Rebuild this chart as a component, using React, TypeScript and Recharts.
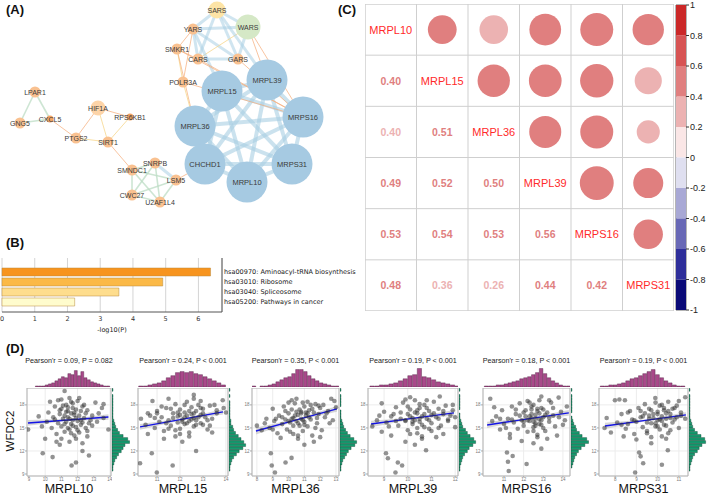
import React from 'react'
import {
  Area, Bar, BarChart, CartesianGrid, Cell, ComposedChart, Line,
  ReferenceArea, ReferenceLine, Scatter, ScatterChart, XAxis, YAxis,
} from 'recharts'

const SANS = '"Liberation Sans", Arial, sans-serif'
const DEJAVU = '"DejaVu Sans", Verdana, sans-serif'

// ---------- (A) PPI network ----------
const netGenes = ['SARS', 'WARS', 'YARS', 'SMKR1', 'CARS', 'GARS', 'POLR3A', 'MRPL15', 'MRPL39', 'MRPS16', 'MRPL36', 'CHCHD1', 'MRPS31', 'MRPL10',
  'LPAR1', 'GNG5', 'CXCL5', 'HIF1A', 'RPS6KB1', 'PTGS2', 'SIRT1', 'SMNDC1', 'SNRPB', 'LSM5', 'CWC27', 'U2AF1L4']
const netGroup = ['sars', 'wars', 'gene', 'gene', 'gene', 'gene', 'gene', 'core', 'core', 'core', 'core', 'core', 'core', 'core',
  'gene', 'gene', 'minor', 'hub', 'minor', 'gene', 'gene', 'gene', 'gene', 'gene', 'gene', 'gene']
// layout coordinates of the drawn network
const netLayout = [[217, 10], [248, 27], [193, 29], [177, 49], [198, 59], [238, 59], [183, 82], [222, 91], [267, 80], [303, 117], [195, 126], [205, 164], [292, 164], [247, 182],
  [35, 92], [20, 123], [50, 119], [98, 108], [130, 117], [76, 138], [108, 142], [132, 170], [155, 163], [176, 180], [132, 195], [160, 202]]
const netEdges: [string, string, string][] = [
  ['MRPL15', 'MRPL39', 'core'], ['MRPL15', 'MRPS16', 'core'], ['MRPL15', 'MRPL36', 'core'], ['MRPL15', 'CHCHD1', 'core'], ['MRPL15', 'MRPS31', 'core'], ['MRPL15', 'MRPL10', 'core'],
  ['MRPL39', 'MRPS16', 'core'], ['MRPL39', 'MRPL36', 'core'], ['MRPL39', 'CHCHD1', 'core'], ['MRPL39', 'MRPS31', 'core'], ['MRPL39', 'MRPL10', 'core'],
  ['MRPS16', 'MRPL36', 'core'], ['MRPS16', 'CHCHD1', 'core'], ['MRPS16', 'MRPS31', 'core'], ['MRPS16', 'MRPL10', 'core'],
  ['MRPL36', 'CHCHD1', 'core'], ['MRPL36', 'MRPS31', 'core'], ['MRPL36', 'MRPL10', 'core'],
  ['CHCHD1', 'MRPS31', 'core'], ['CHCHD1', 'MRPL10', 'core'], ['MRPS31', 'MRPL10', 'core'],
  ['SARS', 'WARS', 'blue'], ['SARS', 'YARS', 'blue'], ['SARS', 'CARS', 'blue'], ['SARS', 'GARS', 'blue'], ['YARS', 'WARS', 'blue'],
  ['YARS', 'CARS', 'blue'], ['YARS', 'GARS', 'blue'], ['WARS', 'CARS', 'yellow'], ['WARS', 'GARS', 'blue'], ['CARS', 'GARS', 'blue'],
  ['YARS', 'MRPL15', 'blue'], ['SARS', 'MRPL39', 'blue'],
  ['SMKR1', 'YARS', 'orange'], ['SMKR1', 'CARS', 'orange'], ['SMKR1', 'POLR3A', 'yellow'], ['SMKR1', 'MRPL36', 'orange'], ['YARS', 'POLR3A', 'orange'],
  ['POLR3A', 'MRPL36', 'yellow'], ['POLR3A', 'MRPS16', 'orange'], ['WARS', 'MRPL39', 'orange'], ['WARS', 'MRPS16', 'orange'],
  ['GARS', 'MRPS16', 'orange'], ['CARS', 'MRPS16', 'orange'], ['SMKR1', 'MRPS16', 'orange'],
  ['LPAR1', 'GNG5', 'green'], ['LPAR1', 'CXCL5', 'green'], ['GNG5', 'CXCL5', 'green'], ['CXCL5', 'PTGS2', 'orange'], ['PTGS2', 'HIF1A', 'orange'],
  ['PTGS2', 'SIRT1', 'yellow'], ['HIF1A', 'SIRT1', 'yellow'], ['HIF1A', 'RPS6KB1', 'orange'], ['RPS6KB1', 'SIRT1', 'yellow'], ['SIRT1', 'SMNDC1', 'orange'],
  ['SMNDC1', 'SNRPB', 'green'], ['SMNDC1', 'LSM5', 'green'], ['SMNDC1', 'CWC27', 'green'], ['SMNDC1', 'U2AF1L4', 'green'], ['SNRPB', 'LSM5', 'blue'],
  ['SNRPB', 'CWC27', 'green'], ['SNRPB', 'U2AF1L4', 'green'], ['LSM5', 'CWC27', 'green'], ['LSM5', 'U2AF1L4', 'green'], ['CWC27', 'U2AF1L4', 'green'],
  ['LSM5', 'CHCHD1', 'orange'],
]

// ---------- (B) KEGG enrichment ----------
const pathwayNames = ['hsa00970: Aminoacyl-tRNA biosynthesis', 'hsa03010: Ribosome', 'hsa03040: Spliceosome', 'hsa05200: Pathways in cancer']
const pathwayLogP = [6.37, 4.91, 3.57, 2.22]
const pathwayTicks = [0, 1, 2, 3, 4, 5, 6]

// ---------- (C) correlation matrix ----------
const corrGenes = ['MRPL10', 'MRPL15', 'MRPL36', 'MRPL39', 'MRPS16', 'MRPS31']
const corrLower = [
  [],
  [0.404],
  [0.398, 0.51],
  [0.49, 0.52, 0.5],
  [0.53, 0.54, 0.53, 0.56],
  [0.48, 0.36, 0.26, 0.44, 0.42],
]
const colorbarTicks = [-1, -0.8, -0.6, -0.4, -0.2, 0, 0.2, 0.4, 0.6, 0.8, 1]

// ---------- (D) scatter plots vs WFDC2 ----------
const scatterGenes = ['MRPL10', 'MRPL15', 'MRPL36', 'MRPL39', 'MRPS16', 'MRPS31']
const pearsonR = ['0.09', '0.24', '0.35', '0.19', '0.18', '0.19']
const pearsonP = ['= 0.082', '< 0.001', '< 0.001', '< 0.001', '< 0.001', '< 0.001']
const xTicks = [[9, 10, 11, 12, 13, 14], [11, 12, 13, 14], [8, 9, 10, 11, 12, 13], [9, 10, 11, 12], [11, 12, 13, 14], [8, 9, 10, 11]]
const yTicks = [9, 12, 15, 18]

const mrpl10Pts = [
  [11.2, 19.8], [13.1, 18.3], [13.6, 18.1], [10.3, 18.4], [10.8, 18.6], [11.5, 18.9], [12.0, 18.5], [11.7, 18.2], [12.4, 18.0], [10.6, 17.8],
  [11.0, 17.5], [11.4, 17.7], [11.9, 17.4], [12.2, 17.2], [11.3, 17.1], [11.6, 16.9], [12.6, 17.3], [10.9, 16.8], [11.8, 16.7], [12.1, 16.6],
  [11.4, 16.4], [11.1, 16.2], [12.4, 16.3], [10.5, 16.4], [11.7, 16.0], [12.0, 15.9], [11.3, 15.8], [12.8, 16.0], [10.8, 15.6], [11.6, 15.5],
  [12.2, 15.4], [11.0, 15.2], [11.9, 15.1], [12.5, 15.0], [10.4, 15.0], [11.5, 14.8], [12.9, 15.3], [9.8, 15.2], [8.95, 14.8], [13.9, 14.8],
  [11.2, 14.5], [12.1, 14.4], [10.7, 14.2], [11.8, 14.0], [12.6, 13.9], [11.0, 13.6], [10.0, 13.6], [11.5, 13.2], [12.3, 13.0], [10.9, 12.8],
  [12.3, 12.0], [9.85, 11.7], [10.46, 11.2], [11.9, 10.5], [11.63, 10.1], [12.7, 11.4], [13.3, 16.9], [9.6, 16.5], [13.5, 17.6], [11.4, 17.2],
  [11.1, 17.9], [11.6, 18.4], [12.3, 17.8], [11.8, 17.0], [11.2, 16.6], [12.5, 16.9], [11.5, 16.2], [11.9, 16.3], [12.3, 15.7], [11.2, 15.5],
  [11.7, 15.3], [10.9, 17.3], [12.7, 15.6], [11.4, 15.0], [12.0, 14.7], [11.6, 14.3], [10.6, 16.1], [12.9, 16.6], [11.3, 18.0], [12.1, 18.9],
  [10.2, 17.0], [13.2, 15.8], [11.9, 13.6], [10.7, 13.2], [12.6, 14.6], [11.0, 18.7], [11.7, 17.6], [12.2, 16.0], [13.6, 16.3], [10.1, 15.8],
]
const mrpl15Pts = [
  [10.3, 16.2], [10.5, 15.4], [10.7, 16.6], [10.9, 15.0], [10.8, 18.5], [11.0, 17.2], [11.1, 15.8], [11.2, 16.4], [11.3, 14.6], [11.4, 17.6],
  [11.5, 16.0], [11.6, 15.3], [11.7, 16.9], [11.8, 18.1], [11.9, 15.7], [11.9, 16.5], [12.0, 17.4], [12.0, 14.9], [12.1, 16.1], [12.2, 15.5],
  [12.2, 17.0], [12.3, 16.6], [12.3, 18.4], [12.4, 15.9], [12.4, 14.4], [12.5, 16.8], [12.5, 17.7], [12.6, 16.3], [12.6, 15.2], [12.7, 17.2],
  [12.7, 16.0], [12.8, 18.0], [12.9, 16.7], [12.9, 15.6], [13.0, 17.5], [13.1, 16.4], [13.2, 14.8], [13.3, 17.9], [13.4, 16.2], [13.5, 18.0],
  [13.6, 16.9], [13.86, 18.6], [13.9, 17.6], [11.3, 13.6], [11.8, 13.9], [12.1, 13.2], [10.6, 14.2], [12.7, 12.0], [11.68, 10.1], [10.99, 9.2],
  [10.26, 10.4], [10.77, 11.7], [11.5, 18.8], [12.6, 19.3], [11.0, 16.9], [13.0, 15.4],
  [11.9, 17.0], [12.2, 16.4], [12.4, 17.2], [12.6, 16.9], [12.1, 15.8], [12.8, 16.4], [12.3, 15.6], [11.7, 16.3], [12.5, 16.1], [13.0, 16.9],
  [12.0, 16.7], [11.6, 17.5], [12.9, 17.6], [12.2, 18.0], [11.4, 15.6], [13.2, 16.0], [12.7, 15.4], [11.8, 14.7], [12.4, 13.9], [13.3, 15.3],
  [11.2, 17.8], [12.9, 18.5], [10.9, 16.3], [13.6, 17.3], [12.0, 14.2], [11.5, 14.9], [13.4, 14.4], [10.6, 16.9], [12.6, 18.8], [14.0, 17.0],
]
const mrpl36Pts = [
  [8.0, 15.3], [8.3, 14.7], [8.6, 16.2], [8.8, 15.0], [9.0, 17.5], [9.1, 15.9], [9.3, 14.3], [9.4, 16.6], [9.6, 15.5], [9.7, 17.8],
  [9.8, 16.1], [9.9, 14.8], [10.0, 16.9], [10.1, 15.7], [10.2, 17.4], [10.3, 16.3], [10.3, 14.2], [10.4, 18.2], [10.5, 15.9], [10.5, 18.8],
  [10.6, 16.7], [10.7, 15.3], [10.8, 17.1], [10.8, 16.2], [10.9, 14.6], [11.0, 17.8], [11.0, 15.8], [11.1, 16.6], [11.2, 18.4], [11.2, 15.2],
  [11.3, 17.3], [11.4, 16.1], [11.5, 14.0], [11.6, 17.0], [11.7, 18.1], [11.8, 15.6], [11.9, 16.8], [12.0, 17.6], [12.1, 14.7], [12.2, 18.0],
  [12.3, 16.4], [12.5, 17.2], [12.7, 18.8], [12.8, 16.0], [13.0, 17.7], [11.0, 12.8], [10.19, 11.1], [9.81, 10.5], [9.14, 9.2], [8.94, 10.1],
  [8.88, 11.7], [10.6, 13.6], [11.6, 13.2], [9.5, 13.7], [12.0, 13.8], [10.0, 18.3],
  [10.4, 16.6], [10.7, 17.4], [10.9, 16.0], [11.1, 17.0], [10.2, 16.2], [10.6, 15.6], [11.3, 16.4], [10.8, 16.9], [10.0, 15.9], [11.5, 17.5],
  [10.5, 17.1], [11.2, 16.9], [9.6, 16.4], [11.8, 16.3], [10.3, 15.3], [11.0, 15.4], [9.8, 17.2], [11.4, 18.0], [10.9, 18.3], [12.4, 16.9],
  [9.2, 16.2], [10.1, 14.5], [11.7, 15.0], [12.6, 15.6], [9.0, 14.8], [10.6, 14.0], [12.9, 18.5], [8.5, 15.6], [11.9, 17.9], [10.2, 18.6],
]
const mrpl39Pts = [
  [8.5, 15.2], [8.7, 16.0], [8.9, 14.5], [9.0, 17.1], [9.1, 15.7], [9.3, 16.5], [9.3, 14.0], [9.5, 17.7], [9.6, 15.3], [9.7, 16.2],
  [9.8, 18.3], [9.9, 15.9], [10.0, 16.8], [10.0, 14.7], [10.1, 17.4], [10.2, 15.5], [10.2, 16.3], [10.3, 18.6], [10.4, 16.9], [10.4, 14.3],
  [10.5, 15.8], [10.5, 17.6], [10.6, 16.5], [10.7, 15.1], [10.7, 18.0], [10.8, 16.2], [10.9, 17.2], [10.9, 14.9], [11.0, 16.7], [11.0, 15.6],
  [11.1, 18.4], [11.2, 16.4], [11.3, 17.5], [11.35, 19.1], [11.4, 15.3], [11.5, 16.8], [11.6, 17.9], [11.7, 15.9], [11.8, 16.6], [11.9, 17.3],
  [12.0, 15.1], [10.6, 13.6], [9.9, 13.2], [11.2, 13.8], [10.3, 12.8], [10.77, 12.1], [9.08, 11.7], [9.16, 11.05], [9.58, 10.5], [9.76, 10.1],
  [9.48, 9.2], [8.9, 18.2], [12.0, 16.4], [11.5, 14.2], [10.1, 19.0],
  [10.1, 16.5], [10.3, 17.0], [10.5, 16.2], [10.7, 16.8], [10.2, 15.8], [10.9, 16.0], [10.4, 17.3], [10.6, 15.4], [10.0, 17.8], [11.1, 16.9],
  [9.9, 16.0], [10.8, 17.6], [10.3, 16.0], [11.3, 16.2], [9.7, 17.0], [10.5, 18.1], [9.5, 15.9], [11.0, 14.6], [10.1, 14.2], [11.5, 17.2],
  [9.4, 16.8], [10.8, 18.6], [11.7, 16.1], [9.2, 15.2], [10.6, 13.9], [11.9, 18.0], [8.8, 16.6], [11.3, 15.0], [9.9, 18.7], [10.4, 15.0],
]
const mrps16Pts = [
  [10.3, 18.8], [10.4, 15.9], [10.6, 16.5], [10.8, 14.8], [10.9, 17.3], [11.0, 15.5], [11.2, 16.2], [11.3, 14.2], [11.4, 17.8], [11.5, 15.7],
  [11.6, 16.8], [11.7, 14.9], [11.8, 18.2], [11.9, 16.0], [12.0, 17.0], [12.0, 15.3], [12.1, 16.5], [12.2, 18.5], [12.2, 14.5], [12.3, 15.9],
  [12.4, 17.4], [12.4, 16.3], [12.5, 15.1], [12.5, 18.0], [12.6, 16.7], [12.6, 15.6], [12.7, 17.2], [12.7, 14.1], [12.8, 16.1], [12.8, 18.6],
  [12.9, 15.4], [12.9, 17.6], [13.0, 16.4], [13.1, 14.6], [13.2, 17.0], [13.3, 15.8], [13.4, 18.3], [13.5, 16.6], [13.6, 15.2], [13.78, 18.95],
  [13.9, 17.1], [14.1, 16.0], [14.2, 17.8], [11.9, 13.3], [12.5, 13.0], [13.2, 13.6], [11.3, 13.7], [12.9, 12.3], [12.15, 10.3], [11.15, 11.8],
  [11.2, 10.6], [11.44, 11.35], [11.24, 9.4], [10.5, 17.7], [13.7, 14.0],
  [12.4, 16.8], [12.6, 16.2], [12.8, 16.9], [12.5, 15.8], [12.7, 17.5], [12.3, 16.5], [12.9, 16.0], [12.1, 17.3], [13.0, 17.4], [12.6, 15.3],
  [12.2, 16.0], [13.1, 16.7], [12.8, 15.5], [12.4, 17.8], [13.3, 16.3], [11.8, 16.6], [12.0, 15.8], [13.0, 15.0], [12.5, 14.6], [11.6, 17.4],
  [13.5, 17.6], [12.3, 18.3], [11.4, 16.1], [13.8, 16.4], [12.7, 13.8], [11.1, 15.0], [13.3, 18.6], [10.8, 16.2], [12.9, 19.1], [14.0, 15.4],
]
const mrps31Pts = [
  [7.5, 15.0], [7.6, 16.3], [7.8, 14.4], [7.99, 18.6], [8.1, 15.7], [8.3, 16.8], [8.46, 18.6], [8.5, 14.9], [8.6, 15.5], [8.7, 17.2],
  [8.8, 16.1], [8.9, 14.2], [9.0, 15.8], [9.1, 17.6], [9.2, 16.4], [9.3, 15.1], [9.4, 18.1], [9.4, 16.9], [9.5, 14.6], [9.6, 16.2],
  [9.6, 17.5], [9.7, 15.6], [9.8, 16.8], [9.89, 18.9], [9.9, 15.2], [10.0, 17.1], [10.0, 16.0], [10.1, 14.8], [10.1, 17.9], [10.2, 16.5],
  [10.3, 15.4], [10.3, 17.3], [10.4, 16.2], [10.5, 18.4], [10.5, 14.3], [10.6, 16.8], [10.7, 15.7], [10.8, 17.6], [10.9, 16.4], [11.0, 15.0],
  [11.1, 17.0], [11.3, 16.2], [9.0, 13.5], [9.7, 13.0], [10.4, 13.6], [8.4, 13.9], [10.48, 12.1], [10.2, 10.2], [9.13, 11.8], [9.2, 11.3],
  [9.32, 10.4], [8.94, 9.2], [11.3, 19.0], [8.2, 18.7],
  [9.8, 16.3], [10.0, 16.8], [10.2, 15.9], [10.4, 16.9], [9.7, 17.3], [10.1, 16.1], [10.3, 17.6], [9.9, 15.6], [10.6, 16.3], [10.5, 17.2],
  [9.6, 16.6], [10.2, 18.0], [10.8, 16.1], [9.5, 15.7], [10.7, 17.5], [9.3, 16.5], [10.0, 15.2], [10.9, 17.9], [9.2, 17.2], [10.4, 15.3],
  [9.9, 18.3], [10.6, 14.7], [9.5, 14.3], [11.1, 16.6], [8.9, 16.0], [10.2, 13.9], [8.6, 17.0], [11.0, 18.5], [9.7, 13.8], [8.3, 15.4],
]
const scatterPoints = [mrpl10Pts, mrpl15Pts, mrpl36Pts, mrpl39Pts, mrps16Pts, mrps31Pts]

// linear fit with confidence band: [x, fit, lower, upper]
const fitBands = [
  [[8.94, 15.65, 15.27, 16.03], [11.42, 16.04, 15.92, 16.16], [13.9, 16.43, 16.08, 16.78]],
  [[10.26, 15.13, 14.76, 15.5], [12.07, 16.11, 16.0, 16.22], [13.87, 17.09, 16.75, 17.43]],
  [[7.94, 14.6, 14.16, 15.04], [10.5, 16.04, 15.93, 16.15], [13.06, 17.48, 17.1, 17.86]],
  [[8.45, 15.52, 15.1, 15.94], [10.2, 16.24, 16.12, 16.36], [11.95, 16.96, 16.6, 17.32]],
  [[10.14, 15.39, 14.98, 15.8], [12.22, 16.18, 16.06, 16.3], [14.3, 16.96, 16.6, 17.32]],
  [[7.52, 15.26, 14.85, 15.67], [9.43, 15.98, 15.86, 16.1], [11.33, 16.7, 16.35, 17.05]],
]

// marginal histograms
const topHistStart = [9.4, 10.2, 7.7, 8.4, 10.0, 7.3]
const topHistBin = [0.2, 0.2, 0.25, 0.2, 0.2, 0.2]
const topHistCounts = [
  [1, 1, 1, 2, 3, 4, 6, 8, 10, 9, 13, 12, 16, 11, 15, 9, 7, 5, 4, 3, 2, 1, 1],
  [1, 1, 2, 3, 4, 6, 9, 11, 14, 15, 14, 15, 13, 12, 10, 8, 6, 4, 2],
  [1, 0, 1, 1, 2, 3, 5, 7, 9, 10, 13, 17, 17, 15, 11, 8, 6, 4, 3, 2, 1, 1],
  [1, 1, 2, 2, 3, 4, 6, 8, 11, 12, 18, 10, 9, 7, 5, 4, 3, 2, 1],
  [1, 1, 1, 2, 2, 3, 4, 5, 6, 8, 9, 10, 12, 14, 18, 13, 9, 6, 4, 2, 1, 1],
  [1, 1, 2, 2, 3, 4, 6, 8, 9, 11, 13, 15, 17, 12, 9, 6, 4, 2, 1, 1],
]
const sideHistStart = 8.8
const sideHistBin = 0.4
const sideHistCounts = [
  [1, 0, 1, 1, 1, 1, 1, 1, 1, 1, 2, 3, 4, 6, 8, 12, 17, 19, 14, 12, 10, 7, 5, 3, 2, 1, 1, 0],
  [1, 0, 1, 0, 1, 1, 1, 1, 1, 1, 2, 2, 4, 5, 7, 10, 13, 16, 18, 15, 11, 8, 5, 3, 2, 1, 1, 0],
  [1, 0, 1, 1, 1, 1, 0, 1, 1, 1, 2, 3, 4, 6, 8, 11, 15, 18, 16, 12, 9, 7, 5, 3, 2, 1, 1, 0],
  [1, 0, 1, 1, 1, 1, 1, 0, 1, 1, 2, 3, 4, 7, 9, 12, 16, 18, 15, 11, 9, 6, 4, 3, 2, 1, 1, 0],
  [1, 0, 1, 1, 1, 1, 1, 1, 0, 1, 2, 3, 5, 6, 9, 12, 17, 19, 15, 11, 8, 6, 4, 3, 2, 1, 0, 0],
  [1, 0, 1, 1, 1, 1, 1, 1, 1, 1, 2, 3, 4, 6, 9, 13, 17, 18, 14, 11, 9, 6, 4, 3, 2, 1, 1, 0],
]

// ---------- styles / layout ----------
const nodeStyle: Record<string, { r: number; fill: string; font: number }> = {
  core: { r: 20.5, fill: '#a6cae2', font: 7.5 },
  wars: { r: 12.5, fill: '#d5e8c6', font: 7 },
  sars: { r: 8.5, fill: '#fde4a6', font: 7 },
  hub: { r: 7.5, fill: '#fdd4a8', font: 7 },
  gene: { r: 5.5, fill: '#f9c190', font: 7 },
  minor: { r: 3.5, fill: '#f4a464', font: 7 },
}
const edgeStyle: Record<string, { stroke: string; width: number; opacity: number }> = {
  core: { stroke: '#a9cfe3', width: 4, opacity: 0.6 },
  blue: { stroke: '#a9cfe3', width: 3, opacity: 0.55 },
  orange: { stroke: '#f5ad7a', width: 0.8, opacity: 0.9 },
  yellow: { stroke: '#f6d88e', width: 0.9, opacity: 0.9 },
  green: { stroke: '#bcdcc4', width: 1.6, opacity: 0.75 },
}
const pathwayColors = ['#f7941e', '#fbb947', '#fedd8d', '#fffccd']
const colorbarColors = ['#0a0a78', '#2e2e9a', '#6868b6', '#a8a8d5', '#dfdff0', '#fae6e6', '#ecb2b2', '#e07f7f', '#d75454', '#cb2828']

const boxLeft = [27, 138, 252, 368, 483, 599]
const boxWidth = [84, 90, 87, 90, 87, 89]
const xDomains: [number, number][] = [[8.88, 14.06], [10.17, 14.09], [7.69, 13.19], [8.32, 12.12], [9.93, 14.36], [7.24, 11.43]]
const Y_DOMAIN: [number, number] = [8.74, 20.2]
const BOX_TOP = 388
const BOX_H = 88

const abs = (left: number, top: number): React.CSSProperties => ({ position: 'absolute', left, top })

function corrColor(v: number) {
  const k = Math.min(9, Math.floor((v + 1) / 0.2))
  return colorbarColors[k]
}

function NetworkPanel() {
  const nodes = netGenes.map((name, i) => ({ name, group: netGroup[i], x: netLayout[i][0], y: netLayout[i][1] }))
  const at = (name: string) => nodes[netGenes.indexOf(name)]
  const NodeShape = (p: any) => {
    const s = nodeStyle[p.payload.group]
    return (
      <g>
        <circle cx={p.cx} cy={p.cy} r={s.r} fill={s.fill} />
        <text x={p.cx} y={p.cy} textAnchor='middle' dominantBaseline='central' fontSize={s.font} fill='#3a3a3a' fontFamily={SANS}>
          {p.payload.name}
        </text>
      </g>
    )
  }
  return (
    <ScatterChart width={330} height={236} margin={{ top: 0, right: 0, bottom: 0, left: 0 }}>
      <XAxis type='number' dataKey='x' domain={[0, 330]} hide />
      <YAxis type='number' dataKey='y' domain={[0, 236]} reversed hide />
      {netEdges.map(([a, b, k], i) => (
        <ReferenceLine
          key={i}
          segment={[{ x: at(a).x, y: at(a).y }, { x: at(b).x, y: at(b).y }]}
          stroke={edgeStyle[k].stroke}
          strokeWidth={edgeStyle[k].width}
          strokeOpacity={edgeStyle[k].opacity}
        />
      ))}
      <Scatter data={nodes} shape={NodeShape} isAnimationActive={false} />
    </ScatterChart>
  )
}

const PathwayTick = (p: any) => (
  <text x={p.x} y={p.y} dy={2.3} fontSize={6.5} fill='#222' fontFamily={DEJAVU} textAnchor='start'>{p.payload.value}</text>
)

function PathwayPanel() {
  const data = pathwayNames.map((name, i) => ({ name, value: pathwayLogP[i] }))
  return (
    <BarChart layout='vertical' width={362} height={84} data={data} margin={{ top: 8, right: 0, bottom: 0, left: 2 }} barSize={8}>
      <CartesianGrid horizontal={false} stroke='#d4d4d4' />
      <XAxis
        type='number'
        domain={[0, 6.72]}
        ticks={pathwayTicks}
        height={22}
        tick={{ fontSize: 6.5, fill: '#333', fontFamily: DEJAVU }}
        tickLine={false}
        tickSize={0}
        tickMargin={4}
        axisLine={{ stroke: '#555' }}
        label={{ value: '-log10(P)', position: 'insideBottom', offset: 2, fontSize: 6.5, fill: '#222', fontFamily: DEJAVU }}
      />
      <XAxis xAxisId='top' orientation='top' type='number' domain={[0, 6.72]} height={0} tick={false} tickLine={false} axisLine={{ stroke: '#555' }} />
      <YAxis
        type='category'
        dataKey='name'
        orientation='right'
        width={140}
        interval={0}
        padding={{ top: 9, bottom: 5 }}
        tick={PathwayTick}
        tickLine={false}
        tickSize={0}
        tickMargin={2}
        axisLine={{ stroke: '#555' }}
      />
      <YAxis yAxisId='left' orientation='left' type='category' dataKey='name' width={0} tick={false} tickLine={false} axisLine={{ stroke: '#555' }} />
      <Bar dataKey='value' stroke='#b98a3c' strokeWidth={0.5} isAnimationActive={false}>
        {data.map((d, i) => <Cell key={d.name} fill={pathwayColors[i]} />)}
      </Bar>
    </BarChart>
  )
}

function CorrPanel() {
  const cells: any[] = []
  corrGenes.forEach((g, row) => {
    corrGenes.forEach((_, col) => {
      if (row === col) cells.push({ col: col + 0.5, row: row + 0.5, kind: 'diag', label: g, v: 1 })
      else if (row > col) cells.push({ col: col + 0.5, row: row + 0.5, kind: 'lower', v: corrLower[row][col] })
      else cells.push({ col: col + 0.5, row: row + 0.5, kind: 'upper', v: corrLower[col][row] })
    })
  })
  const W = 309
  const cellPx = W / corrGenes.length
  const CellShape = (p: any) => {
    const d = p.payload
    if (d.kind === 'diag')
      return <text x={p.cx} y={p.cy} textAnchor='middle' dominantBaseline='central' fontSize={11} fill='#ff2a2a' fontFamily={SANS}>{d.label}</text>
    if (d.kind === 'lower')
      return <text x={p.cx} y={p.cy} textAnchor='middle' dominantBaseline='central' fontSize={10.5} fontWeight='bold' fill={corrColor(d.v)} fontFamily={SANS}>{d.v.toFixed(2)}</text>
    return <circle cx={p.cx} cy={p.cy} r={0.44 * cellPx * Math.sqrt(Math.abs(d.v))} fill={corrColor(d.v)} />
  }
  return (
    <ScatterChart width={W} height={307} margin={{ top: 0, right: 0, bottom: 0, left: 0 }}>
      <CartesianGrid stroke='#cfcfcf' />
      <XAxis type='number' dataKey='col' domain={[0, 6]} ticks={[0, 1, 2, 3, 4, 5, 6]} hide />
      <YAxis type='number' dataKey='row' domain={[0, 6]} ticks={[0, 1, 2, 3, 4, 5, 6]} reversed hide />
      <ReferenceArea x1={0} x2={6} y1={0} y2={6} fill='none' stroke='#cfcfcf' />
      <Scatter data={cells} shape={CellShape} isAnimationActive={false} />
    </ScatterChart>
  )
}

function ColorBar() {
  // one stacked column; negative bins stack downward from 0 (stackOffset sign)
  const row: Record<string, number | string> = { name: 'cb' }
  colorbarColors.forEach((_, i) => {
    const lo = colorbarTicks[i]
    const hi = colorbarTicks[i + 1]
    row[`b${i}`] = lo < 0 ? lo - hi : hi - lo
  })
  const order = [5, 6, 7, 8, 9, 4, 3, 2, 1, 0]
  return (
    <BarChart width={37} height={316} data={[row]} stackOffset='sign' barCategoryGap={0} margin={{ top: 5, right: 0, bottom: 6, left: 4 }}>
      <XAxis dataKey='name' hide />
      <YAxis
        type='number'
        orientation='right'
        domain={[-1, 1]}
        allowDataOverflow
        ticks={colorbarTicks}
        width={23}
        tickSize={3}
        tickMargin={1}
        axisLine={false}
        tickLine={{ stroke: '#333' }}
        tick={{ fontSize: 9, fill: '#222', fontFamily: SANS }}
      />
      {order.map((i) => (
        <Bar key={i} dataKey={`b${i}`} stackId='cb' fill={colorbarColors[i]} isAnimationActive={false} />
      ))}
      <ReferenceArea y1={-1} y2={1} fill='none' stroke='#444' strokeWidth={0.8} />
    </BarChart>
  )
}

const Dot = (p: any) => <circle cx={p.cx} cy={p.cy} r={2.3} fill='#2e2e2e' fillOpacity={0.52} />

function ScatterPanel({ i }: { i: number }) {
  const left = boxLeft[i]
  const w = boxWidth[i]
  const dom = xDomains[i]
  const span = dom[1] - dom[0]
  const pts = scatterPoints[i].map(([x, y]) => ({ x, y }))
  const fit = fitBands[i].map(([x, f, lo, hi]) => ({ x, fit: f, band: [lo, hi] }))
  const top = topHistCounts[i].map((n, k) => ({ x: topHistStart[i] + (k + 0.5) * topHistBin[i], n }))
  const side = sideHistCounts[i].map((n, k) => ({ y: sideHistStart + (k + 0.5) * sideHistBin, n }))
  const tick = { fontSize: 4.5, fill: '#777', fontFamily: SANS }
  return (
    <>
      <div style={{ ...abs(left - 20, 356), width: w + 40, textAlign: 'center', fontSize: 7.2, color: '#222', whiteSpace: 'nowrap' }}>
        Pearson'r = {pearsonR[i]}, P {pearsonP[i]}
      </div>
      <div style={abs(left, 368)}>
        <ComposedChart width={w} height={19} data={top} margin={{ top: 0, right: 0, bottom: 0, left: 0 }}>
          <XAxis type='number' dataKey='x' domain={dom} allowDataOverflow hide />
          <YAxis type='number' domain={[0, 18.5]} hide />
          <Bar dataKey='n' barSize={(topHistBin[i] / span) * w} fill='#a9498a' stroke='#4b1e3e' strokeWidth={0.4} isAnimationActive={false} />
        </ComposedChart>
      </div>
      <div style={abs(left + w + 1, BOX_TOP)}>
        <ComposedChart layout='vertical' width={18} height={BOX_H} data={side} margin={{ top: 0, right: 0, bottom: 0, left: 0 }}>
          <XAxis type='number' domain={[0, 19.5]} hide />
          <YAxis type='number' dataKey='y' domain={Y_DOMAIN} allowDataOverflow hide />
          <Bar dataKey='n' barSize={(sideHistBin / (Y_DOMAIN[1] - Y_DOMAIN[0])) * BOX_H} fill='#169a6e' stroke='#0b3f2e' strokeWidth={0.4} isAnimationActive={false} />
        </ComposedChart>
      </div>
      <div style={abs(left - 12, BOX_TOP)}>
        <ComposedChart width={w + 13} height={BOX_H + 7} data={fit} margin={{ top: 0, right: 1, bottom: 0, left: 0 }}>
          <CartesianGrid stroke='#ececec' />
          <XAxis type='number' dataKey='x' domain={dom} ticks={xTicks[i]} allowDataOverflow height={7}
            tick={tick} tickSize={1.5} tickMargin={0} axisLine={false} tickLine={{ stroke: '#aaa' }} />
          <YAxis type='number' dataKey='y' domain={Y_DOMAIN} ticks={yTicks} allowDataOverflow width={12}
            tick={tick} tickSize={2} tickMargin={0.5} axisLine={false} tickLine={{ stroke: '#aaa' }} />
          <ReferenceArea x1={dom[0]} x2={dom[1]} y1={Y_DOMAIN[0]} y2={Y_DOMAIN[1]} fill='none' stroke='#b3b3b3' />
          <Area dataKey='band' type='linear' fill='#bdbdbd' fillOpacity={0.6} stroke='none' isAnimationActive={false} />
          <Scatter data={pts} shape={Dot} isAnimationActive={false} />
          <Line dataKey='fit' type='linear' stroke='#1414e6' strokeWidth={1.4} dot={false} isAnimationActive={false} />
        </ComposedChart>
      </div>
      <div style={{ ...abs(left - 20, 484), width: w + 40, textAlign: 'center', fontSize: 12.5, lineHeight: '11px', color: '#111' }}>
        {scatterGenes[i]}
      </div>
    </>
  )
}

const panelLabel: React.CSSProperties = { fontWeight: 'bold', fontSize: 13, lineHeight: '14px', color: '#111' }

export default function App() {
  return (
    <div style={{ position: 'absolute', left: 0, top: 0, width: 709, height: 496, background: '#fff', fontFamily: SANS, overflow: 'hidden' }}>
      <div style={abs(0, 0)}><NetworkPanel /></div>
      <div style={abs(0, 250)}><PathwayPanel /></div>
      <div style={abs(365, 4)}><CorrPanel /></div>
      <div style={abs(672, 0)}><ColorBar /></div>
      {scatterGenes.map((g, i) => <ScatterPanel key={g} i={i} />)}
      <div style={{ ...abs(10, 431), transform: 'translate(-50%, -50%) rotate(-90deg)', fontSize: 11.5, color: '#111', whiteSpace: 'nowrap' }}>WFDC2</div>
      <div style={{ ...abs(6, 3), ...panelLabel }}>(A)</div>
      <div style={{ ...abs(6, 236), ...panelLabel }}>(B)</div>
      <div style={{ ...abs(338, 3), ...panelLabel }}>(C)</div>
      <div style={{ ...abs(6, 342), ...panelLabel }}>(D)</div>
    </div>
  )
}
